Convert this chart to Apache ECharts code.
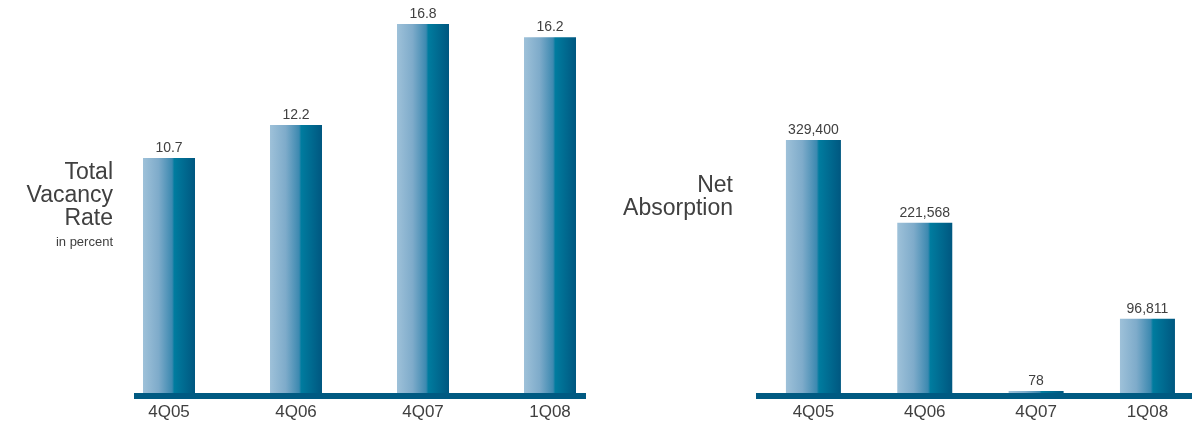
<!DOCTYPE html>
<html>
<head>
<meta charset="utf-8">
<script src="https://cdn.jsdelivr.net/npm/echarts@6/dist/echarts.min.js"></script>
<style>
  html, body { margin: 0; padding: 0; background: #fff; }
  #chart { width: 1192px; height: 430px; }
</style>
</head>
<body>
<div id="chart"></div>
<script>
// Quarterly office market figures
const quarters = ['4Q05', '4Q06', '4Q07', '1Q08'];
const vacancyRate = [10.7, 12.2, 16.8, 16.2];          // percent
const netAbsorption = [329400, 221568, 78, 96811];     // square feet

const FONT = '"Liberation Sans", Arial, sans-serif';
const TEXT = '#404040';
const AXIS = '#005a82';

const barFill = {
  type: 'linear', x: 0, y: 0, x2: 1, y2: 0,
  colorStops: [
    { offset: 0, color: '#9ec1d9' },
    { offset: 0.3, color: '#7eabca' },
    { offset: 0.56, color: '#3c89b0' },
    { offset: 0.6, color: '#007c9f' },
    { offset: 1, color: '#005780' }
  ]
};

const baseline = { show: true, lineStyle: { color: AXIS, width: 6, cap: 'butt' } };
const quarterLabel = { color: TEXT, fontSize: 17, margin: 11, fontFamily: FONT };

// absorption bars sit on a numeric x scale so the band can run past the right edge
const absorptionPoints = netAbsorption.map((v, i) => [i, v]);

const chart = echarts.init(document.getElementById('chart'), null, { renderer: 'canvas' });

chart.setOption({
  animation: false,
  textStyle: { fontFamily: FONT },
  grid: [
    { left: 105.5, width: 508, top: 24, bottom: 37 },   // vacancy bars
    { left: 134, width: 452, top: 24, bottom: 34 },     // vacancy baseline
    { left: 757.75, right: 0, top: 140, bottom: 37 },   // absorption bars
    { left: 756, right: 0, top: 140, bottom: 34 }       // absorption baseline
  ],
  xAxis: [
    {
      gridIndex: 0, type: 'category', data: quarters,
      axisLine: { show: false }, axisTick: { show: false },
      axisLabel: quarterLabel
    },
    {
      gridIndex: 1, type: 'category', data: quarters,
      axisLine: baseline, axisTick: { show: false }, axisLabel: { show: false }
    },
    {
      gridIndex: 2, type: 'value', min: -0.5, max: 3.4,
      splitLine: { show: false },
      axisLine: { show: false }, axisTick: { show: false },
      axisLabel: Object.assign({}, quarterLabel, {
        customValues: [0, 1, 2, 3],
        formatter: v => quarters[Math.round(v)]
      })
    },
    {
      gridIndex: 3, type: 'category', data: quarters,
      axisLine: baseline, axisTick: { show: false }, axisLabel: { show: false }
    }
  ],
  yAxis: [
    { gridIndex: 0, type: 'value', min: 0, max: 16.8, show: false },
    { gridIndex: 1, type: 'value', min: 0, max: 1, show: false },
    { gridIndex: 2, type: 'value', min: 0, max: 329400, show: false },
    { gridIndex: 3, type: 'value', min: 0, max: 1, show: false }
  ],
  series: [
    {
      type: 'bar', xAxisIndex: 0, yAxisIndex: 0,
      data: vacancyRate, barWidth: 52,
      itemStyle: { color: barFill },
      label: {
        show: true, position: 'top', distance: 3,
        color: TEXT, fontSize: 14, fontFamily: FONT,
        formatter: p => p.value.toFixed(1)
      }
    },
    {
      type: 'bar', xAxisIndex: 2, yAxisIndex: 2,
      data: absorptionPoints, barWidth: 55, barMinHeight: 2,
      itemStyle: { color: barFill },
      label: {
        show: true, position: 'top', distance: 3,
        color: TEXT, fontSize: 14, fontFamily: FONT,
        formatter: p => p.value[1].toLocaleString('en-US')
      }
    }
  ],
  graphic: [
    {
      type: 'text', x: 113, y: 161,
      style: {
        text: 'Total\nVacancy\nRate', font: '23px ' + FONT, fill: TEXT,
        align: 'right', lineHeight: 23
      }
    },
    {
      type: 'text', x: 113, y: 236,
      style: { text: 'in percent', font: '13px ' + FONT, fill: TEXT, align: 'right' }
    },
    {
      type: 'text', x: 733, y: 174,
      style: {
        text: 'Net\nAbsorption', font: '23px ' + FONT, fill: TEXT,
        align: 'right', lineHeight: 23
      }
    }
  ]
});
</script>
</body>
</html>
